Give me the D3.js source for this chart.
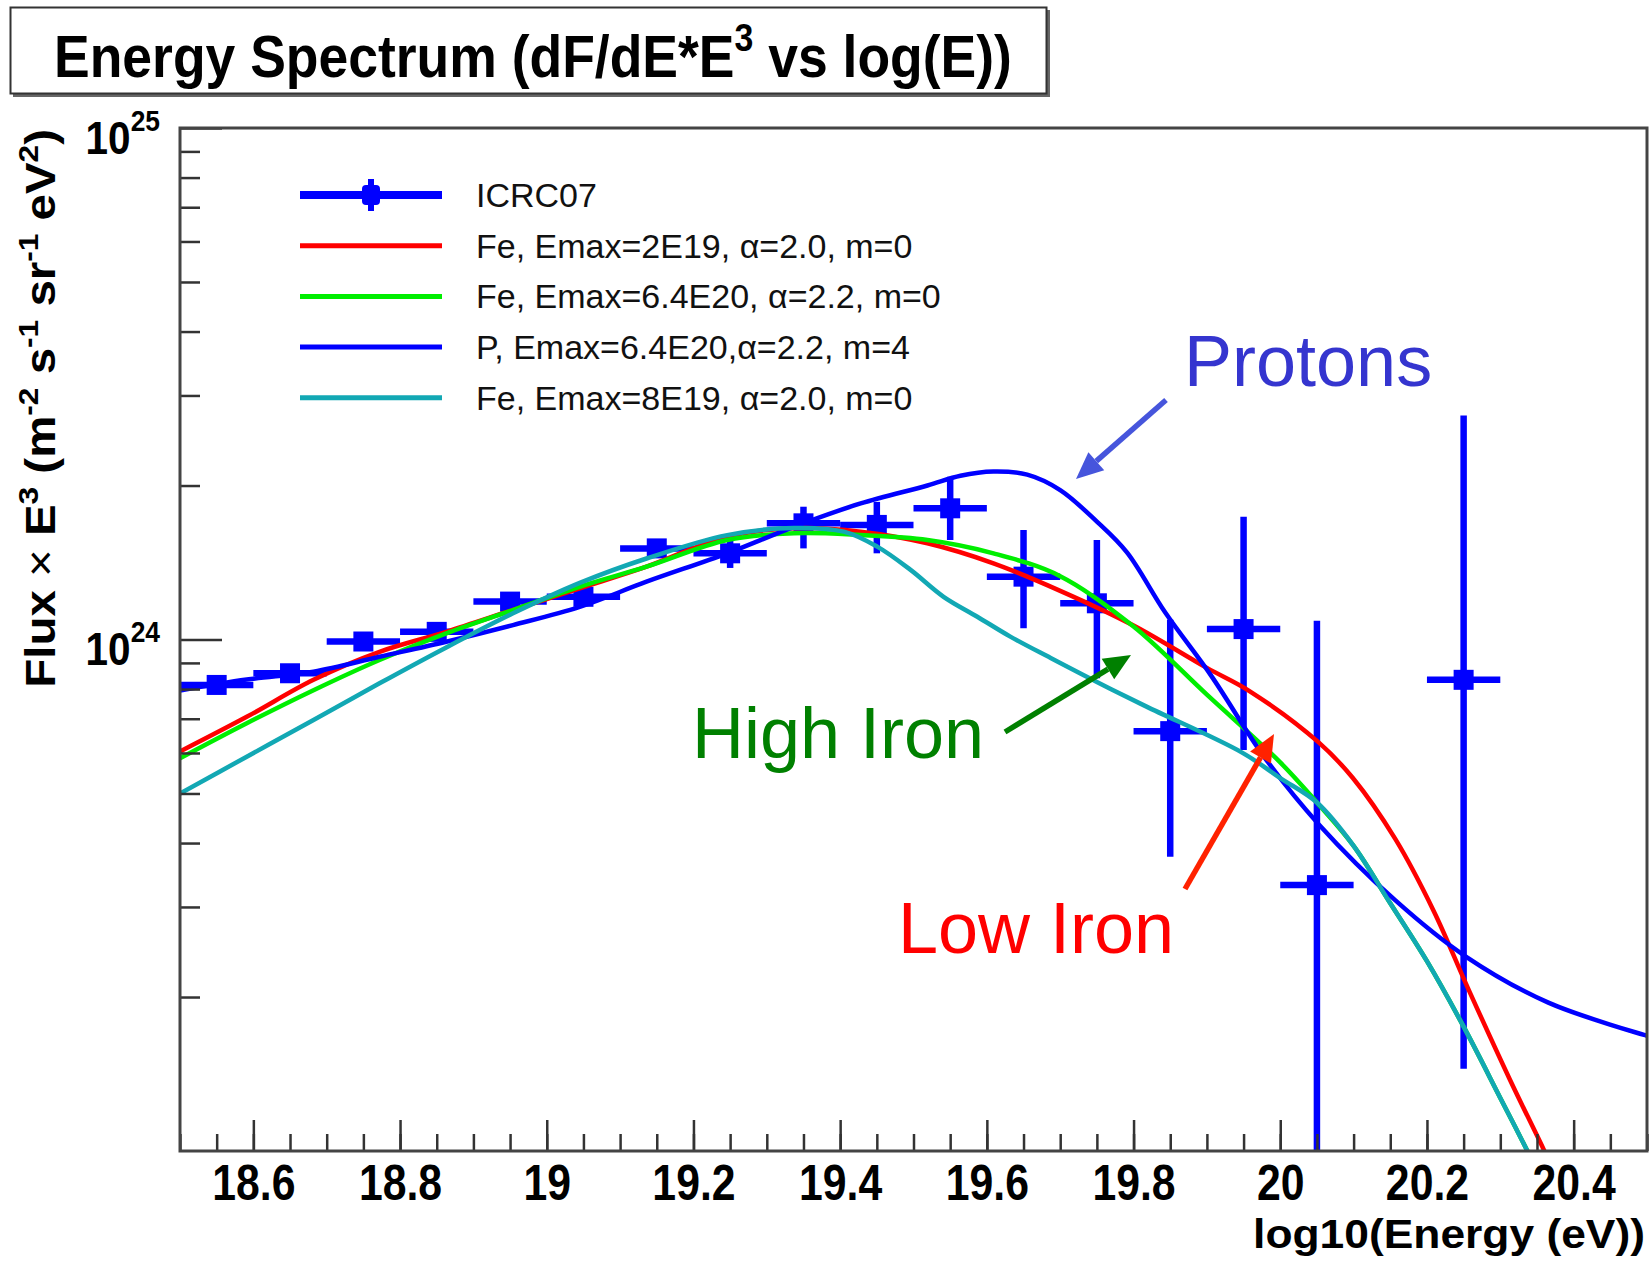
<!DOCTYPE html>
<html>
<head>
<meta charset="utf-8">
<script src="https://cdn.jsdelivr.net/npm/d3@7"></script>
<style>
  body { margin: 0; background: #fff; }
  svg { display: block; font-family: "Liberation Sans", Arial, Helvetica, sans-serif; }
</style>
</head>
<body>
<svg id="chart" width="1651" height="1263"></svg>
<script>
// ICRC07 measured points (log10 E bin centres, flux * E^3)
var binCenters = [18.55, 18.65, 18.75, 18.85, 18.95, 19.05, 19.15, 19.25, 19.35, 19.45, 19.55, 19.65, 19.75, 19.85, 19.95, 20.05, 20.25];
var flux   = [8.15e23, 8.59e23, 9.91e23, 1.035e24, 1.186e24, 1.212e24, 1.507e24, 1.474e24, 1.687e24, 1.675e24, 1.805e24, 1.327e24, 1.177e24, 6.62e23, 1.048e24, 3.31e23, 8.34e23];
var fluxLo = [7.95e23, 8.38e23, 9.67e23, 1.01e24, 1.157e24, 1.18e24, 1.455e24, 1.38e24, 1.507e24, 1.474e24, 1.565e24, 1.052e24, 8.4e23, 3.76e23, 6.08e23, 1e22, 1.448e23];
var fluxHi = [8.35e23, 8.8e23, 1.015e24, 1.06e24, 1.215e24, 1.245e24, 1.56e24, 1.565e24, 1.818e24, 1.858e24, 2.08e24, 1.637e24, 1.565e24, 1.093e24, 1.738e24, 1.088e24, 2.74e24];

// model curves
var redE = [18.5, 18.591, 18.682, 18.772, 18.863, 18.954, 19.045, 19.136, 19.246, 19.337, 19.428, 19.519, 19.609, 19.7, 19.8, 19.9, 19.958, 20.052, 20.099, 20.157, 20.209, 20.256, 20.313, 20.363, 20.42];
var redF = [6.04e23, 7.06e23, 8.34e23, 9.46e23, 1.035e24, 1.142e24, 1.259e24, 1.388e24, 1.589e24, 1.65e24, 1.625e24, 1.542e24, 1.409e24, 1.245e24, 1.065e24, 8.8e23, 7.93e23, 6.3e23, 5.36e23, 4.07e23, 2.95e23, 2.08e23, 1.38e23, 9.8e22, 6.5e22];

var greenE = [18.5, 18.591, 18.682, 18.772, 18.863, 18.954, 19.045, 19.136, 19.246, 19.337, 19.428, 19.519, 19.609, 19.7, 19.8, 19.9, 20.0, 20.05, 20.1, 20.15, 20.2, 20.25, 20.3, 20.337, 20.38];
var greenF = [5.86e23, 6.86e23, 7.96e23, 9.12e23, 1.028e24, 1.142e24, 1.268e24, 1.388e24, 1.565e24, 1.613e24, 1.6e24, 1.565e24, 1.474e24, 1.33e24, 1.06e24, 7.8e23, 5.75e23, 4.8e23, 3.95e23, 3.05e23, 2.35e23, 1.75e23, 1.27e23, 1.0e23, 7.5e22];

var protonE = [18.5, 18.591, 18.682, 18.772, 18.863, 18.954, 19.045, 19.136, 19.246, 19.337, 19.428, 19.519, 19.564, 19.609, 19.655, 19.7, 19.75, 19.791, 19.843, 19.906, 19.979, 20.052, 20.157, 20.253, 20.3655, 20.5];
var protonF = [7.95e23, 8.35e23, 8.65e23, 9.25e23, 9.9e23, 1.067e24, 1.158e24, 1.297e24, 1.474e24, 1.661e24, 1.845e24, 2.0e24, 2.09e24, 2.13e24, 2.1e24, 1.959e24, 1.7e24, 1.48e24, 1.13e24, 8.49e23, 5.87e23, 4.36e23, 3.09e23, 2.4e23, 1.95e23, 1.68e23];

var cyanE = [18.5, 18.591, 18.682, 18.772, 18.863, 18.954, 19.045, 19.136, 19.246, 19.337, 19.405, 19.4505, 19.496, 19.541, 19.587, 19.632, 19.687, 19.75, 19.817, 19.948, 20.0, 20.05, 20.1, 20.15, 20.2, 20.25, 20.3, 20.337, 20.38];
var cyanF = [5.0e23, 5.9e23, 6.96e23, 8.21e23, 9.65e23, 1.125e24, 1.29e24, 1.44e24, 1.6e24, 1.652e24, 1.625e24, 1.519e24, 1.368e24, 1.212e24, 1.108e24, 1.013e24, 9.2e23, 8.26e23, 7.4e23, 6.01e23, 5.36e23, 4.8e23, 3.95e23, 3.05e23, 2.35e23, 1.75e23, 1.27e23, 1.0e23, 7.5e22];

var legendLabels = ["ICRC07", "Fe, Emax=2E19, \u03b1=2.0, m=0", "Fe, Emax=6.4E20, \u03b1=2.2, m=0", "P, Emax=6.4E20,\u03b1=2.2, m=4", "Fe, Emax=8E19, \u03b1=2.0, m=0"];
var legendColors = ["#0000ff", "#ff0000", "#00ee00", "#0000ff", "#12a8b4"];

var xMajorTicks = [18.6, 18.8, 19.0, 19.2, 19.4, 19.6, 19.8, 20.0, 20.2, 20.4];
var xTickLabels = ["18.6", "18.8", "19", "19.2", "19.4", "19.6", "19.8", "20", "20.2", "20.4"];
var yMajorTicks = [1e24, 1e25];
var yTickExponents = ["24", "25"];
var yMinorTicks = [2e23, 3e23, 4e23, 5e23, 6e23, 7e23, 8e23, 9e23, 2e24, 3e24, 4e24, 5e24, 6e24, 7e24, 8e24, 9e24];

var svg = d3.select("#chart");

var x = d3.scaleLinear().domain([18.5, 20.5]).range([180, 1647]);
var y = d3.scaleLog().domain([1e23, 1e25]).range([1151, 128]);

svg.append("rect").attr("width", 1651).attr("height", 1263).attr("fill", "#fff");

svg.append("clipPath").attr("id", "plotclip")
  .append("rect").attr("x", 180).attr("y", 128).attr("width", 1467).attr("height", 1023);

var plot = svg.append("g").attr("clip-path", "url(#plotclip)");

// data points with error bars
var pts = binCenters.map(function (e, i) {
  return { e: e, f: flux[i], lo: fluxLo[i], hi: fluxHi[i] };
});
var pg = plot.selectAll(".pt").data(pts).enter().append("g").attr("class", "pt");
pg.append("line")
  .attr("x1", function (d) { return x(d.e - 0.05); })
  .attr("x2", function (d) { return x(d.e + 0.05); })
  .attr("y1", function (d) { return y(d.f); })
  .attr("y2", function (d) { return y(d.f); })
  .attr("stroke", "#0000ff").attr("stroke-width", 6.5);
pg.append("line")
  .attr("x1", function (d) { return x(d.e); })
  .attr("x2", function (d) { return x(d.e); })
  .attr("y1", function (d) { return y(d.lo); })
  .attr("y2", function (d) { return y(d.hi); })
  .attr("stroke", "#0000ff").attr("stroke-width", 6.5);
pg.append("rect")
  .attr("x", function (d) { return x(d.e) - 10; })
  .attr("y", function (d) { return y(d.f) - 10; })
  .attr("width", 20).attr("height", 20)
  .attr("fill", "#0000ff");

// model curves
var line = d3.line()
  .x(function (d) { return x(d[0]); })
  .y(function (d) { return y(d[1]); })
  .curve(d3.curveCatmullRom.alpha(0.5));

function zip(a, b) { return a.map(function (v, i) { return [v, b[i]]; }); }

var curves = [
  { pts: zip(redE, redF), color: legendColors[1] },
  { pts: zip(greenE, greenF), color: legendColors[2] },
  { pts: zip(protonE, protonF), color: legendColors[3] },
  { pts: zip(cyanE, cyanF), color: legendColors[4] }
];
plot.selectAll(".model").data(curves).enter().append("path")
  .attr("class", "model")
  .attr("d", function (d) { return line(d.pts); })
  .attr("fill", "none")
  .attr("stroke", function (d) { return d.color; })
  .attr("stroke-width", 4.5);

// axes
var xMinor = d3.range(0, 41).map(function (i) { return 18.5 + i * 0.05; });
svg.append("g").attr("transform", "translate(0,1151)")
  .call(d3.axisBottom(x).tickValues(xMinor).tickSize(-17).tickFormat(""))
  .call(function (g) { g.select(".domain").remove(); })
  .selectAll("line").attr("stroke", "#333").attr("stroke-width", 2.5);

var xa = svg.append("g").attr("transform", "translate(0,1151)")
  .call(d3.axisBottom(x).tickValues(xMajorTicks).tickSize(-31)
    .tickFormat(function (d, i) { return xTickLabels[i]; }));
xa.select(".domain").remove();
xa.selectAll("line").attr("stroke", "#333").attr("stroke-width", 2.5);
xa.selectAll("text")
  .attr("y", 49).attr("dy", null)
  .attr("fill", "#000")
  .attr("font-size", 50).attr("font-weight", "bold")
  .attr("font-family", "Liberation Sans, Arial, sans-serif")
  .attr("transform", "scale(0.855,1)");

svg.append("g").attr("transform", "translate(180,0)")
  .call(d3.axisLeft(y).tickValues(yMinorTicks).tickSize(-20).tickFormat(""))
  .call(function (g) { g.select(".domain").remove(); })
  .selectAll("line").attr("stroke", "#333").attr("stroke-width", 2.5);

var ya = svg.append("g").attr("transform", "translate(180,0)")
  .call(d3.axisLeft(y).tickValues(yMajorTicks).tickSize(-42).tickFormat(""));
ya.select(".domain").remove();
ya.selectAll("line").attr("stroke", "#333").attr("stroke-width", 2.5);
ya.selectAll(".tick").each(function (d, i) {
  var t = d3.select(this).append("text")
    .attr("transform", "translate(-20,25) scale(0.88,1)")
    .attr("text-anchor", "end")
    .attr("fill", "#000")
    .attr("font-weight", "bold")
    .attr("font-family", "Liberation Sans, Arial, sans-serif");
  t.append("tspan").attr("font-size", 46).text("10");
  t.append("tspan").attr("font-size", 30).attr("dy", -23).text(yTickExponents[i]);
});

// frame
svg.append("rect")
  .attr("x", 180).attr("y", 128).attr("width", 1467).attr("height", 1023)
  .attr("fill", "none").attr("stroke", "#444").attr("stroke-width", 3);

// helper: squeeze text to a width
function fitWidth(text, target) {
  var w = text.node().getBBox().width;
  text.attr("transform", "scale(" + (target / w) + ",1)");
}

// axis titles
var xt = svg.append("g").attr("transform", "translate(1645,1248)")
  .append("text").attr("text-anchor", "end")
  .attr("font-size", 40).attr("font-weight", "bold")
  .text("log10(Energy (eV))");
fitWidth(xt, 392);

var yt = svg.append("g").attr("transform", "translate(55,129) rotate(-90)")
  .append("text").attr("text-anchor", "end")
  .attr("font-size", 42).attr("font-weight", "bold");
yt.append("tspan").text("Flux ");
yt.append("tspan").attr("font-weight", "normal").text("\u00d7");
yt.append("tspan").text(" E");
yt.append("tspan").attr("font-size", 28).attr("dy", -17).text("3");
yt.append("tspan").attr("dy", 17).text(" (m");
yt.append("tspan").attr("font-size", 28).attr("dy", -17).text("-2");
yt.append("tspan").attr("dy", 17).text(" s");
yt.append("tspan").attr("font-size", 28).attr("dy", -17).text("-1");
yt.append("tspan").attr("dy", 17).text(" sr");
yt.append("tspan").attr("font-size", 28).attr("dy", -17).text("-1");
yt.append("tspan").attr("dy", 17).text(" eV");
yt.append("tspan").attr("font-size", 28).attr("dy", -17).text("2");
yt.append("tspan").attr("dy", 17).text(")");
fitWidth(yt, 559);

// title box
svg.append("rect").attr("x", 13).attr("y", 10).attr("width", 1037).attr("height", 87).attr("fill", "#666");
svg.append("rect").attr("x", 10.5).attr("y", 7.5).attr("width", 1036).attr("height", 86)
  .attr("fill", "#fff").attr("stroke", "#333").attr("stroke-width", 2);
var tt = svg.append("g").attr("transform", "translate(54,77)")
  .append("text").attr("font-size", 60).attr("font-weight", "bold");
tt.append("tspan").text("Energy Spectrum (dF/dE*E");
tt.append("tspan").attr("font-size", 38).attr("dy", -26).text("3");
tt.append("tspan").attr("dy", 26).text(" vs log(E))");
fitWidth(tt, 958);

// legend
var leg = svg.append("g");
legendLabels.forEach(function (lab, i) {
  var ly = 195 + i * 50.7;
  leg.append("line").attr("x1", 300).attr("x2", 442).attr("y1", ly).attr("y2", ly)
    .attr("stroke", legendColors[i]).attr("stroke-width", i === 0 ? 8 : 5);
  if (i === 0) {
    leg.append("line").attr("x1", 371).attr("x2", 371).attr("y1", ly - 16).attr("y2", ly + 16)
      .attr("stroke", "#0000ff").attr("stroke-width", 6);
    leg.append("rect").attr("x", 362).attr("y", ly - 10).attr("width", 18).attr("height", 20)
      .attr("rx", 4).attr("fill", "#0000ff");
  }
  leg.append("text").attr("x", 476).attr("y", ly + 12)
    .attr("font-size", 34).attr("fill", "#111").text(lab);
});

// annotations
function arrow(x1, y1, x2, y2, color) {
  var a = Math.atan2(y2 - y1, x2 - x1), L = 27, Wd = 12;
  var bx = x2 - L * Math.cos(a), by = y2 - L * Math.sin(a);
  svg.append("line").attr("x1", x1).attr("y1", y1).attr("x2", bx).attr("y2", by)
    .attr("stroke", color).attr("stroke-width", 5.5);
  var px = -Math.sin(a) * Wd, py = Math.cos(a) * Wd;
  svg.append("path")
    .attr("d", "M" + x2 + "," + y2 + "L" + (bx + px) + "," + (by + py) + "L" + (bx - px) + "," + (by - py) + "Z")
    .attr("fill", color);
}
arrow(1166, 400, 1076, 479, "#4655dc");
arrow(1005, 732, 1131, 655, "#008000");
arrow(1185, 889, 1274, 734, "#ff2200");

svg.append("text").attr("x", 1184).attr("y", 386).attr("font-size", 72).attr("fill", "#3535cf").text("Protons");
svg.append("text").attr("x", 692).attr("y", 758).attr("font-size", 72).attr("fill", "#008000").text("High Iron");
svg.append("text").attr("x", 898).attr("y", 953).attr("font-size", 72).attr("fill", "#ff0000").text("Low Iron");
</script>
</body>
</html>
